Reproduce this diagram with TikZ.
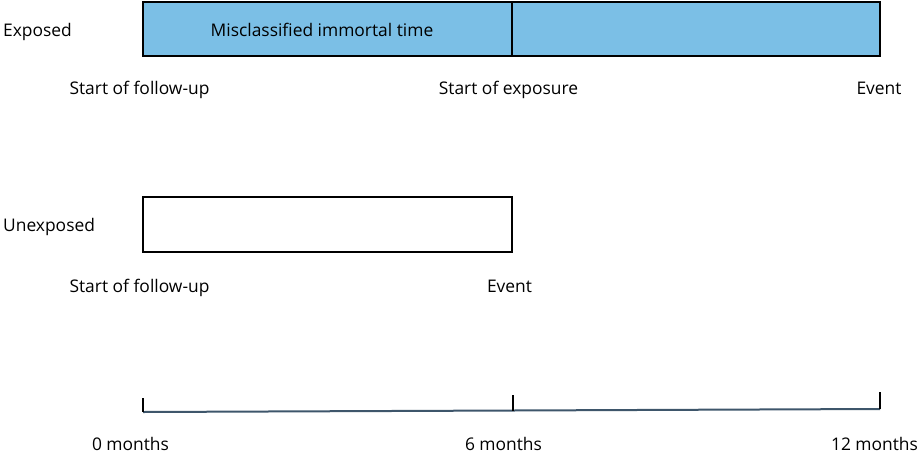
\documentclass[tikz,border=0pt]{standalone}
\usepackage{fontspec}
\setmainfont{Open Sans}
\definecolor{barblue}{HTML}{7BBFE6}
\definecolor{axisblue}{HTML}{3E566B}
\begin{document}
\begin{tikzpicture}[x=1pt,y=-1pt,
  lbl/.style={font=\fontsize{17.4}{20}\selectfont, inner sep=0pt, anchor=base},
  rowlbl/.style={lbl, anchor=base west},
  bar/.style={draw=black, line width=2.5pt},
  tick/.style={draw=black, line width=2pt},
  axis/.style={draw=axisblue, line width=2pt}]
\useasboundingbox (0,0) rectangle (919,456);

% exposed row
\node[rowlbl] (expl) at (3,36) {Exposed};
\path[bar, fill=barblue] (143,2) rectangle (880,56);
\draw[bar] (512,2) -- (512,56);
\node[lbl] (mis) at (322,36) {Misclassified immortal time};
\node[lbl] (sfu1) at (139.5,94) {Start of follow-up};
\node[lbl] (sexp) at (508.5,94) {Start of exposure};
\node[lbl] (ev1) at (879,94) {Event};

% unexposed row
\node[rowlbl] (unl) at (3,231) {Unexposed};
\path[bar, fill=white] (143,197) rectangle (512,252);
\node[lbl] (sfu2) at (139.5,292) {Start of follow-up};
\node[lbl] (ev2) at (509.5,292) {Event};

% time axis
\coordinate (a0) at (143,412);
\coordinate (a6) at (513,410.5);
\coordinate (a12) at (880,409);
\draw[axis] (a0) -- (a6) -- (a12);
\draw[tick] (a0) -- ++(0,-14);
\draw[tick] (a6) -- ++(0,-16);
\draw[tick] (a12) -- ++(0,-17);
\node[lbl] (m0) at (130.5,450) {0 months};
\node[lbl] (m6) at (503.5,450) {6 months};
\node[lbl] (m12) at (874.5,450) {12 months};
\end{tikzpicture}
\end{document}
